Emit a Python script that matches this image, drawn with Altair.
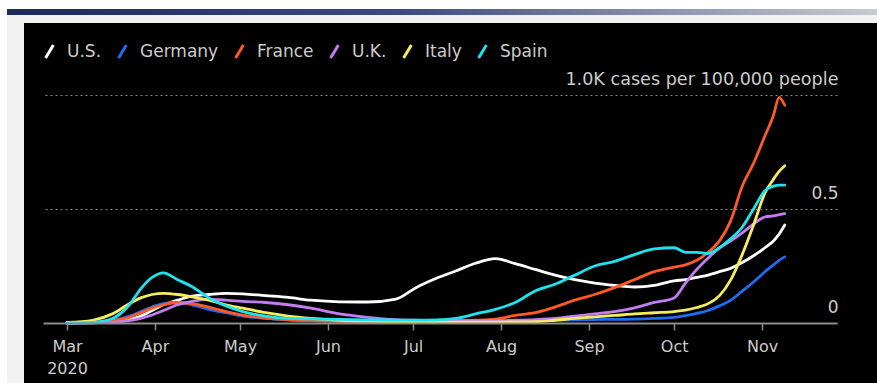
import altair as alt
import pandas as pd

# Weekly-ish sample dates (2020) and 7-day average new cases per 100,000 people
dates = [
    "2020-03-01", "2020-03-10", "2020-03-17", "2020-03-23", "2020-03-27", "2020-03-31",
    "2020-04-04", "2020-04-09", "2020-04-14", "2020-04-20", "2020-04-26", "2020-05-02",
    "2020-05-10", "2020-05-18", "2020-05-26", "2020-06-05", "2020-06-15", "2020-06-25",
    "2020-07-02", "2020-07-09", "2020-07-16", "2020-07-23", "2020-07-30", "2020-08-06",
    "2020-08-13", "2020-08-20", "2020-08-27", "2020-09-03", "2020-09-10", "2020-09-17",
    "2020-09-24", "2020-10-01", "2020-10-05", "2020-10-09", "2020-10-13", "2020-10-17",
    "2020-10-21", "2020-10-25", "2020-10-29", "2020-11-02", "2020-11-05", "2020-11-07",
    "2020-11-09",
]

us = [0.0, 0.001, 0.005, 0.015, 0.03, 0.055, 0.08, 0.10, 0.118, 0.125, 0.13, 0.128,
      0.12, 0.112, 0.10, 0.093, 0.092, 0.105, 0.155, 0.195, 0.228, 0.262, 0.282, 0.26,
      0.235, 0.21, 0.19, 0.175, 0.165, 0.158, 0.165, 0.185, 0.19, 0.20, 0.21, 0.225,
      0.24, 0.265, 0.295, 0.33, 0.36, 0.39, 0.43]
germany = [0.0, 0.002, 0.01, 0.03, 0.05, 0.07, 0.085, 0.09, 0.08, 0.06, 0.045, 0.03,
           0.02, 0.013, 0.01, 0.007, 0.005, 0.005, 0.004, 0.004, 0.004, 0.005, 0.006, 0.008,
           0.01, 0.012, 0.014, 0.015, 0.016, 0.017, 0.02, 0.025, 0.032, 0.042, 0.055, 0.075,
           0.10, 0.14, 0.18, 0.225, 0.255, 0.275, 0.29]
france = [0.0, 0.002, 0.01, 0.025, 0.045, 0.065, 0.08, 0.09, 0.085, 0.07, 0.05, 0.035,
          0.022, 0.015, 0.01, 0.007, 0.006, 0.006, 0.006, 0.007, 0.009, 0.012, 0.017, 0.033,
          0.045, 0.07, 0.10, 0.125, 0.155, 0.19, 0.225, 0.245, 0.255, 0.275, 0.31, 0.36,
          0.45, 0.60, 0.70, 0.82, 0.91, 0.99, 0.955]
uk = [0.0, 0.001, 0.003, 0.01, 0.02, 0.035, 0.055, 0.08, 0.095, 0.105, 0.10, 0.095,
      0.09, 0.08, 0.065, 0.04, 0.025, 0.015, 0.012, 0.01, 0.01, 0.01, 0.01, 0.012,
      0.015, 0.02, 0.03, 0.04, 0.05, 0.066, 0.09, 0.11, 0.175, 0.235, 0.285, 0.33,
      0.36, 0.395, 0.435, 0.465, 0.47, 0.475, 0.48]
italy = [0.003, 0.012, 0.04, 0.085, 0.11, 0.125, 0.13, 0.125, 0.115, 0.10, 0.08, 0.065,
         0.045, 0.03, 0.02, 0.012, 0.008, 0.005, 0.004, 0.004, 0.004, 0.004, 0.004, 0.005,
         0.006, 0.012, 0.02, 0.027, 0.033, 0.04, 0.045, 0.05, 0.056, 0.068, 0.085, 0.12,
         0.19, 0.30, 0.43, 0.57, 0.63, 0.665, 0.69]
spain = [0.0, 0.003, 0.02, 0.08, 0.15, 0.20, 0.22, 0.19, 0.16, 0.11, 0.075, 0.05,
         0.03, 0.02, 0.018, 0.016, 0.014, 0.013, 0.013, 0.014, 0.02, 0.04, 0.06, 0.09,
         0.14, 0.17, 0.21, 0.25, 0.27, 0.30, 0.325, 0.33, 0.31, 0.31, 0.305, 0.33,
         0.37, 0.42, 0.50, 0.58, 0.60, 0.605, 0.605]

countries = ["U.S.", "Germany", "France", "U.K.", "Italy", "Spain"]
palette = ["#ffffff", "#1f6cf0", "#ff5a26", "#c37cf2", "#f7ec5e", "#1fe2ee"]
series = [us, germany, france, uk, italy, spain]

y_ticks = [0, 0.5, 1.0]
y_top_label = "1.0K cases per 100,000 people"

rows = []
for name, vals in zip(countries, series):
    for d, v in zip(dates, vals):
        rows.append({"date": d + "T00:00:00", "country": name, "cases": v})
df = pd.DataFrame(rows)

FONT = "DejaVu Sans"
TEXT = "#cccccc"
AXIS = "#8c8c8c"

one_row = alt.Data(values=[{"k": 0}])

# page furniture: light frame, gradient header strip, black panel
frame = alt.Chart(one_row).mark_rect(color="#f2f2f2").encode(
    x=alt.value(-36), x2=alt.value(834), y=alt.value(-80), y2=alt.value(288)
)
header = alt.Chart(one_row).mark_rect(
    color=alt.LinearGradient(
        gradient="linear",
        stops=[
            alt.GradientStop(color="#1b2a5c", offset=0),
            alt.GradientStop(color="#3b4a80", offset=0.45),
            alt.GradientStop(color="#8a92ad", offset=0.75),
            alt.GradientStop(color="#c8cad1", offset=1),
        ],
        x1=0, x2=1, y1=0, y2=0,
    )
).encode(x=alt.value(-36), x2=alt.value(834), y=alt.value(-86), y2=alt.value(-80))
panel = alt.Chart(one_row).mark_rect(color="#000000").encode(
    x=alt.value(-19), x2=alt.value(834), y=alt.value(-72), y2=alt.value(288)
)

x_scale = alt.Scale(
    domain=[
        alt.DateTime(year=2020, month=2, date=21, hours=13),
        alt.DateTime(year=2020, month=11, date=27, hours=10),
    ]
)
y_scale = alt.Scale(domain=[0, 1], nice=False)

lines = alt.Chart(df).mark_line(
    strokeWidth=2.8, interpolate="monotone", strokeJoin="round", strokeCap="round"
).encode(
    x=alt.X(
        "date:T",
        scale=x_scale,
        axis=alt.Axis(
            title=None,
            grid=False,
            tickCount=alt.TimeIntervalStep(interval="month", step=1),
            labelExpr="month(datum.value) == 2 ? [timeFormat(datum.value, '%b'), timeFormat(datum.value, '%Y')] : timeFormat(datum.value, '%b')",
            labelFont=FONT,
            labelFontSize=16,
            labelColor=TEXT,
            labelLineHeight=22,
            labelPadding=8,
            labelFlush=False,
            labelOverlap=False,
            domainColor=AXIS,
            domainWidth=2,
            tickColor=AXIS,
            tickWidth=1.5,
            tickSize=7,
            zindex=1,
        ),
    ),
    y=alt.Y(
        "cases:Q",
        scale=y_scale,
        axis=alt.Axis(
            title=None,
            orient="right",
            values=y_ticks,
            grid=True,
            gridColor="#8a8a8a",
            gridDash=[2, 3],
            gridWidth=1,
            domain=False,
            ticks=False,
            tickSize=0,
            labelAlign="right",
            labelBaseline="alphabetic",
            labelOffset=-11,
            labelPadding=1,
            labelLimit=600,
            labelFlush=False,
            labelOverlap=False,
            labelExpr=f"datum.value == 1 ? '{y_top_label}' : datum.value == 0.5 ? '0.5' : '0'",
            labelFont=FONT,
            labelFontSize={"condition": {"test": "datum.value == 1", "value": 17.6}, "value": 17},
            labelColor=TEXT,
            zindex=1,
        ),
    ),
    color=alt.Color(
        "country:N",
        scale=alt.Scale(domain=countries, range=palette),
        legend=alt.Legend(
            title=None,
            orient="none",
            direction="horizontal",
            legendX=-2,
            legendY=-52,
            padding=0,
            symbolType="M-0.6,1L0.6,-1",
            symbolSize=169,
            symbolStrokeWidth=3,
            labelOffset=9,
            columnPadding=10,
            labelFont=FONT,
            labelFontSize=17,
            labelColor=TEXT,
        ),
    ),
    order=alt.value(0),
)

chart = (
    alt.layer(frame, header, panel, lines)
    .properties(
        width=794,
        height=228,
        autosize=alt.AutoSizeParams(type="none"),
        padding={"left": 43, "top": 95, "right": 40, "bottom": 60},
        background="#ffffff",
    )
    .configure_view(stroke=None)
)

chart.save("out.html", embed_options={"renderer": "svg", "actions": False})
